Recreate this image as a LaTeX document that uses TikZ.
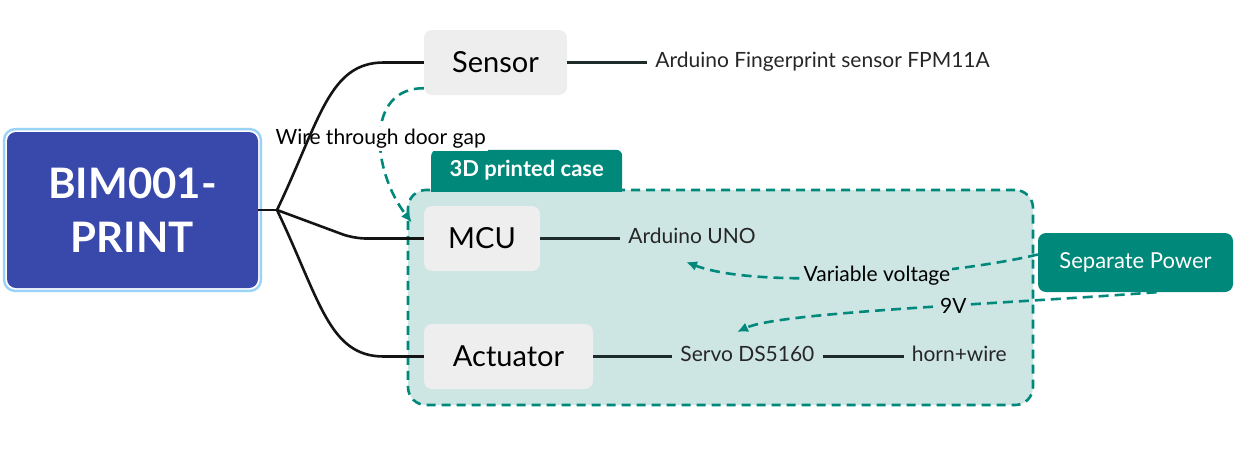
\documentclass[tikz,border=0pt]{standalone}
\usepackage{fontspec}
\setmainfont{Lato}
\usetikzlibrary{positioning, arrows.meta, fit}

\definecolor{rootblue}{HTML}{3949AB}
\definecolor{rootring}{HTML}{9AD3F7}
\definecolor{boxgray}{HTML}{EEEEEE}
\definecolor{casegreen}{HTML}{00897B}
\definecolor{casefill}{HTML}{CDE6E4}
\definecolor{linedark}{HTML}{141414}
\definecolor{twigdark}{HTML}{1E2B2B}
\definecolor{leaftext}{HTML}{262626}

\begin{document}
\begin{tikzpicture}[x=1pt, y=-1pt,
    topic/.style={fill=boxgray, rounded corners=8pt, minimum height=65pt, inner xsep=0pt, text=black, font=\fontsize{29}{34}\selectfont},
    leaf/.style={inner xsep=8pt, inner ysep=0pt, text height=15pt, text depth=5pt, text=leaftext, font=\fontsize{21}{25}\selectfont},
    branch/.style={draw=linedark, line width=2.6pt},
    twig/.style={draw=twigdark, line width=2.4pt},
    link/.style={draw=casegreen, line width=2.6pt, dash pattern=on 10pt off 6pt, -{Latex[length=11pt,width=10pt]}},
    linklabel/.style={text=black, inner sep=2pt, font=\fontsize{21}{25}\selectfont}]
        \useasboundingbox (0,0) rectangle (1246,450);

        % Case group
        \node (case) [draw=casegreen, fill=casefill, line width=2.6pt, dash pattern=on 9pt off 6pt, rounded corners=18pt, minimum width=625pt, minimum height=215pt] at (720.5,297.5) {};
        \node (tab) [fill=casegreen, rounded corners=6pt, minimum width=191pt, minimum height=41pt, text=white, anchor=south west, font=\bfseries\fontsize{22}{26}\selectfont] at (431,191) {3D printed case};
        \fill[casegreen] ([yshift=10pt]tab.south west) rectangle ([yshift=-1pt]tab.south east);

        % Nodes
        \node (root) [fill=rootblue, rounded corners=9pt, minimum width=251pt, minimum height=156pt, text=white, align=center, font=\bfseries\fontsize{42}{54}\selectfont] at (132.5,210) {BIM001-\\PRINT};
        \node (ring) [fit=(root), inner sep=2.7pt, draw=rootring, line width=2.4pt, rounded corners=11pt] {};
        \node (sensor) [topic, minimum width=143pt] at (495.5,62.5) {Sensor};
        \node (mcu) [topic, minimum width=116pt] at (482,238.5) {MCU};
        \node (actuator) [topic, minimum width=169pt] at (508.5,356.5) {Actuator};
        \node (power) [fill=casegreen, rounded corners=8pt, minimum width=195pt, minimum height=59pt, text=white, font=\fontsize{22}{26}\selectfont] at (1135.5,262.5) {Separate Power};

        \node (fpm) [leaf, right=80pt of sensor] {Arduino Fingerprint sensor FPM11A};
        \node (uno) [leaf, right=80pt of mcu] {Arduino UNO};
        \node (servo) [leaf, right=79pt of actuator] {Servo DS5160};
        \node (horn) [leaf, right=81pt of servo] {horn+wire};

        \coordinate (hub) at (277,210);
        \coordinate (vin) at (686,262);
        \coordinate (vservo) at (737,332);

        % Arrows
        \draw[link] ([yshift=7pt]sensor.south west) .. controls +(-59,0) and +(-40,-52) .. ([xshift=-12pt,yshift=16pt]mcu.west)
            node[linklabel, fill=white, pos=0.52] {Wire through door gap};
        \draw[link] ([yshift=8pt]power.west) .. controls +(-88,21) and +(74,28) .. (vin)
            node[linklabel, fill=casefill, pos=0.45] {Variable voltage};
        \draw[link] ([xshift=21pt]power.south) .. controls +(-157,12) and +(43,-20) .. (vservo)
            node[linklabel, fill=casefill, pos=0.4] {9V};

        % Branches
        \draw[branch] (root.east) -- (hub);
        \draw[branch] (hub) .. controls +(43,-90) and +(-55,0) .. ([xshift=-40pt]sensor.west) -- (sensor.west);
        \draw[branch, rounded corners=12pt] (hub) -- ([xshift=-70pt]mcu.west) -- (mcu.west);
        \draw[branch] (hub) .. controls +(43,90) and +(-55,0) .. ([xshift=-40pt]actuator.west) -- (actuator.west);

        \draw[twig] (sensor) -- (fpm);
        \draw[twig] (mcu) -- (uno);
        \draw[twig] (actuator) -- (servo);
        \draw[twig] (servo) -- (horn);
\end{tikzpicture}
\end{document}
